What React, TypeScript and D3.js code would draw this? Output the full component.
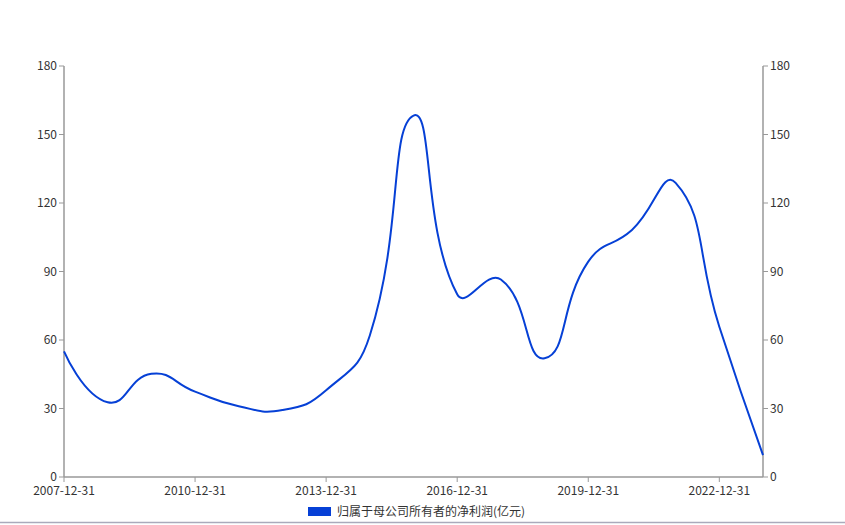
import React from "react";
import * as d3 from "d3";

const categories = [
  "2007-12-31", "2008-12-31", "2009-12-31", "2010-12-31", "2011-12-31", "2012-12-31",
  "2013-12-31", "2014-12-31", "2015-12-31", "2016-12-31", "2017-12-31", "2018-12-31",
  "2019-12-31", "2020-12-31", "2021-12-31", "2022-12-31", "2023-12-31",
];
const netProfit = [55, 32.7, 45.2, 37.4, 31, 29.3, 38, 62, 158.3, 80, 86.5, 52, 94.3, 108.2, 128.8, 65.8, 9.6];
const yTicks = [0, 30, 60, 90, 120, 150, 180];
const xTickLabels = ["2007-12-31", "2010-12-31", "2013-12-31", "2016-12-31", "2019-12-31", "2022-12-31"];
const seriesName = "归属于母公司所有者的净利润(亿元)";

const W = 845;
const H = 525;
const left = 64;
const right = 763;
const top = 66;
const bottom = 477;
const FONT = "'Microsoft YaHei', 'Noto Sans CJK SC', 'Liberation Sans', sans-serif";
const LINE = "#0640d6";
const AXIS = "#999";
const TEXT = "#333";

// ECharts-style smooth bezier through points (smooth = 0.5)
function smoothPath(pts: [number, number][], smooth = 0.5): string {
  const p = d3.path();
  let cp0: [number, number] = [pts[0][0], pts[0][1]];
  p.moveTo(pts[0][0], pts[0][1]);
  for (let i = 1; i < pts.length; i++) {
    const cur = pts[i];
    const prev = pts[i - 1];
    const next = pts[i + 1];
    let cp1: [number, number];
    let ratio = 0.5;
    let vx = 0, vy = 0;
    if (!next) {
      cp1 = [cur[0], cur[1]];
    } else {
      vx = next[0] - prev[0];
      vy = next[1] - prev[1];
      const lp = Math.hypot(cur[0] - prev[0], cur[1] - prev[1]);
      const ln = Math.hypot(next[0] - cur[0], next[1] - cur[1]);
      ratio = ln / (ln + lp);
      cp1 = [cur[0] - vx * smooth * (1 - ratio), cur[1] - vy * smooth * (1 - ratio)];
    }
    p.bezierCurveTo(cp0[0], cp0[1], cp1[0], cp1[1], cur[0], cur[1]);
    cp0 = [cur[0] + vx * smooth * ratio, cur[1] + vy * smooth * ratio];
  }
  return p.toString();
}

export default function App() {
  const x = d3.scalePoint<string>().domain(categories).range([left, right]);
  const y = d3.scaleLinear().domain([0, 180]).range([bottom, top]);
  const pts: [number, number][] = categories.map((c, i) => [x(c) as number, y(netProfit[i])]);
  const d = smoothPath(pts, 0.5);

  return (
    <div style={{ position: "absolute", left: 0, top: 0, width: W, height: H, background: "#fff" }}>
      <svg width={W} height={H} style={{ display: "block" }} fontFamily={FONT}>
        <rect x={0} y={0} width={W} height={H} fill="#fff" />
        {/* left axis */}
        <line x1={left} x2={left} y1={top} y2={bottom} stroke={AXIS} strokeWidth={1.5} />
        {yTicks.map((t) => (
          <g key={"l" + t}>
            <line x1={left - 5} x2={left} y1={y(t)} y2={y(t)} stroke={AXIS} strokeWidth={1} />
            <text x={left - 7} y={y(t)} dy="0.35em" textAnchor="end" fontSize={12} fill={TEXT}>
              {t}
            </text>
          </g>
        ))}
        {/* right axis */}
        <line x1={right} x2={right} y1={top} y2={bottom} stroke={AXIS} strokeWidth={1.5} />
        {yTicks.map((t) => (
          <g key={"r" + t}>
            <line x1={right} x2={right + 5} y1={y(t)} y2={y(t)} stroke={AXIS} strokeWidth={1} />
            <text x={right + 7} y={y(t)} dy="0.35em" textAnchor="start" fontSize={12} fill={TEXT}>
              {t}
            </text>
          </g>
        ))}
        {/* x axis */}
        <line x1={left} x2={right} y1={bottom} y2={bottom} stroke={AXIS} strokeWidth={1.5} />
        {xTickLabels.map((c) => (
          <g key={c}>
            <line x1={x(c)} x2={x(c)} y1={bottom} y2={bottom + 5} stroke={AXIS} strokeWidth={1} />
            <text x={x(c)} y={bottom + 14} dy="0.35em" textAnchor="middle" fontSize={12} fill={TEXT}>
              {c}
            </text>
          </g>
        ))}
        {/* series line */}
        <path d={d} fill="none" stroke={LINE} strokeWidth={2} />
        {/* legend */}
        <rect x={308} y={507} width={23} height={9} fill={LINE} />
        <text x={337} y={511.5} dy="0.35em" fontSize={12} fill={TEXT}>
          {seriesName}
        </text>
        {/* bottom border */}
        <line x1={0} x2={W} y1={522.5} y2={522.5} stroke="#aaaabb" strokeWidth={1.5} />
      </svg>
    </div>
  );
}
